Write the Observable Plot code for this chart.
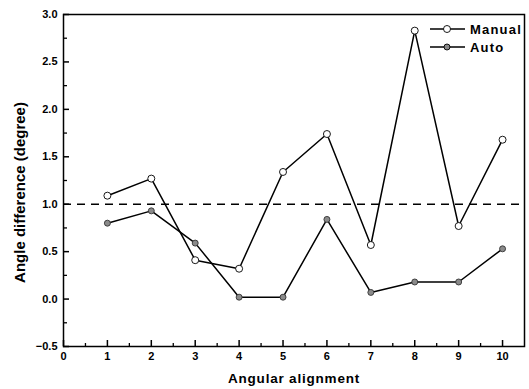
<!DOCTYPE html>
<html>
<head>
<meta charset="utf-8">
<script src="https://cdn.jsdelivr.net/npm/d3@7"></script>
<script src="https://cdn.jsdelivr.net/npm/@observablehq/plot@0.6"></script>
<style>
  html, body { margin: 0; padding: 0; background: #fff; }
  #wrap { position: relative; width: 529px; height: 389px; font-family: "Liberation Sans", Arial, sans-serif; }
  #legend { position: absolute; left: 428px; top: 20px; font-weight: bold; font-size: 13px; letter-spacing: 1.2px; color: #000; }
  #legend .row { display: flex; align-items: center; height: 18px; }
  #legend svg { margin-right: 4px; }
</style>
</head>
<body>
<div id="wrap"></div>
<script>
const alignment = [1, 2, 3, 4, 5, 6, 7, 8, 9, 10];
const manual = [1.09, 1.27, 0.41, 0.32, 1.34, 1.74, 0.57, 2.83, 0.77, 1.68];
const auto = [0.80, 0.93, 0.59, 0.02, 0.02, 0.84, 0.07, 0.18, 0.18, 0.53];
const threshold = 1.0;
const xMajor = [0, 1, 2, 3, 4, 5, 6, 7, 8, 9, 10];
const xMinor = [0.5, 1.5, 2.5, 3.5, 4.5, 5.5, 6.5, 7.5, 8.5, 9.5];
const yMajor = [-0.5, 0, 0.5, 1.0, 1.5, 2.0, 2.5, 3.0];
const yMinor = [-0.25, 0.25, 0.75, 1.25, 1.75, 2.25, 2.75];
const seriesNames = ["Manual", "Auto"];
const yTitle = ["Angle difference (degree)"];

const manualData = alignment.map((x, i) => ({x, y: manual[i]}));
const autoData = alignment.map((x, i) => ({x, y: auto[i]}));

const W = 529, H = 389, mL = 63, mR = 5, mT = 14, mB = 43;
const innerW = W - mL - mR, innerH = H - mT - mB;

const chart = Plot.plot({
  width: W,
  height: H,
  marginLeft: mL,
  marginRight: mR,
  marginTop: mT,
  marginBottom: mB,
  style: {fontFamily: "Liberation Sans, Arial, sans-serif", fontWeight: "bold", fontSize: "11px", color: "#000", background: "#fff"},
  x: {domain: [0, 10.5]},
  y: {domain: [-0.5, 3.0]},
  marks: [
    Plot.frame({stroke: "#000", strokeWidth: 1.5}),
    Plot.tickX(xMajor, {x: d => d, insetTop: innerH - 6, stroke: "#000", strokeWidth: 1.5}),
    Plot.tickX(xMinor, {x: d => d, insetTop: innerH - 3, stroke: "#000", strokeWidth: 1.3}),
    Plot.tickY(yMajor, {y: d => d, insetRight: innerW - 6, stroke: "#000", strokeWidth: 1.5}),
    Plot.tickY(yMinor, {y: d => d, insetRight: innerW - 4, stroke: "#000", strokeWidth: 1.3}),
    Plot.axisX({ticks: xMajor, tickSize: 0, tickPadding: 6, tickFormat: d3.format("d"), label: "Angular alignment", labelAnchor: "center", labelArrow: "none", labelOffset: 36}),
    Plot.axisY({ticks: yMajor, tickSize: 0, tickPadding: 6, tickFormat: d3.format(".1f"), label: null}),
    Plot.text(yTitle, {text: d => d, frameAnchor: "left", textAnchor: "middle", dx: -43, dy: 12, rotate: -90, fontSize: 15, fontWeight: 600}),
    Plot.ruleY([threshold], {x1: 0, x2: 10.5, stroke: "#000", strokeWidth: 1.4, strokeDasharray: "8,6"}),
    Plot.line(manualData, {x: "x", y: "y", stroke: "#000", strokeWidth: 1.5}),
    Plot.line(autoData, {x: "x", y: "y", stroke: "#000", strokeWidth: 1.5}),
    Plot.dot(manualData, {x: "x", y: "y", r: 3.5, fill: "#fff", stroke: "#000", strokeWidth: 0.9}),
    Plot.dot(autoData, {x: "x", y: "y", r: 3, fill: "#8a8a8a", stroke: "#333", strokeWidth: 0.9})
  ]
});

d3.select(chart).selectAll("g[aria-label='x-axis label'] text")
  .style("font-size", "13.5px").style("letter-spacing", "0.8px");

const wrap = document.getElementById("wrap");
wrap.appendChild(chart);

const legend = document.createElement("div");
legend.id = "legend";
const styles = [{fill: "#fff", r: 3.5}, {fill: "#8a8a8a", r: 3}];
legend.innerHTML = seriesNames.map((name, i) =>
  `<div class="row"><svg width="38" height="10"><line x1="2" x2="37" y1="5" y2="5" stroke="#000" stroke-width="1.3"/><circle cx="19" cy="5" r="${styles[i].r}" fill="${styles[i].fill}" stroke="#000" stroke-width="0.9"/></svg><span>${name}</span></div>`
).join("");
wrap.appendChild(legend);
</script>
</body>
</html>
